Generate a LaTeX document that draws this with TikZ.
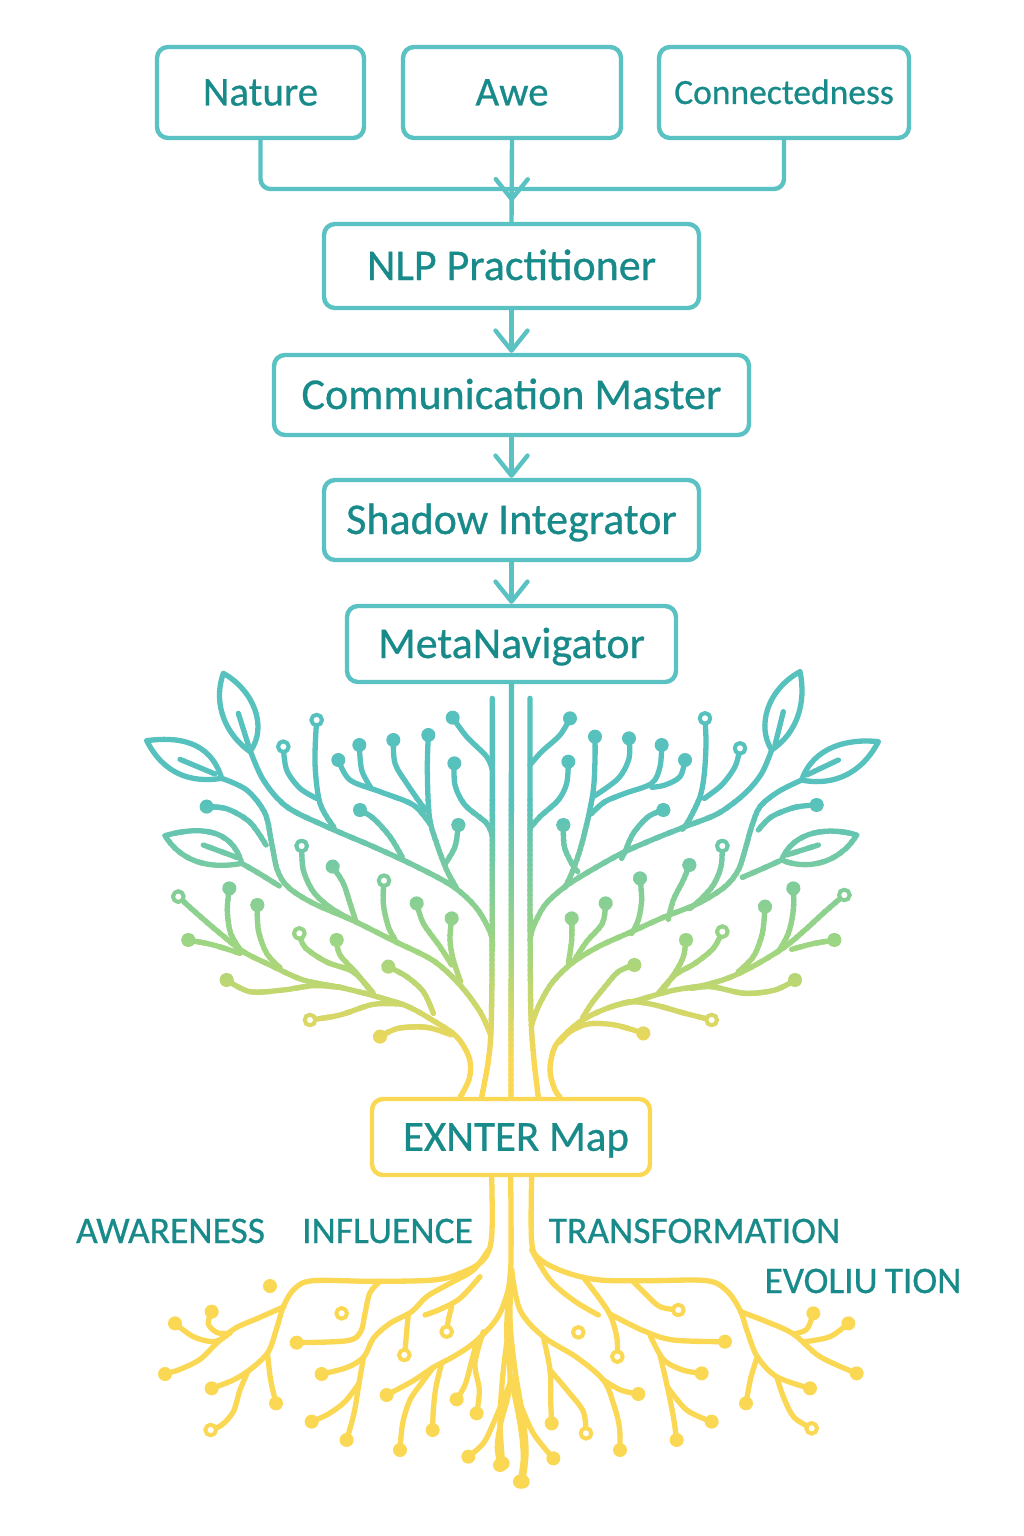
\documentclass[tikz,border=0pt]{standalone}
\usepackage{fontspec}
\setmainfont{Carlito}[FakeBold=0.6]
\usetikzlibrary{arrows.meta,decorations.markings}
\definecolor{boxteal}{RGB}{90,194,194}
\definecolor{txteal}{RGB}{24,138,138}
\definecolor{rootyel}{RGB}{250,216,84}
\definecolor{tgT}{RGB}{86,193,189}
\definecolor{tgG}{RGB}{160,214,128}
\definecolor{tgY}{RGB}{250,216,84}

\newcommand\tbranch[1]{\draw plot[smooth,tension=0.55] coordinates {#1};}
\newcommand\tdot[1]{\fill #1 circle[radius=21];}
\newcommand\tring[1]{\draw[line width=4pt,fill=white] #1 circle[radius=16];}

\newcommand\lefttree{%
\tbranch{(1057,85) (1057,600) (1055,1000) (1048,1150) (1025,1282)}
\tbranch{(330,240) (370,330) (440,410) (560,470) (700,530) (830,590) (940,650) (1010,715) (1052,790) (1057,830)}
\draw (250,10) .. controls (340,60) and (385,170) .. (330,245) .. controls (265,200) and (215,110) .. (250,10);
\draw (295,130) -- (325,225);
\draw (20,212) .. controls (110,200) and (210,210) .. (245,325) .. controls (150,340) and (70,310) .. (20,212);
\draw (120,268) -- (225,312);
\draw (75,497) .. controls (170,470) and (275,470) .. (305,580) .. controls (200,600) and (120,570) .. (75,497);
\draw (190,525) -- (290,562);
\tbranch{(245,325) (320,360) (375,430) (395,520) (412,600) (445,652) (520,700) (640,752) (760,812) (880,872) (960,945) (1020,1025) (1050,1090)}
\tbranch{(305,580) (360,612) (418,648)}
\tbranch{(200,410) (262,417) (330,457) (378,525)}
\tbranch{(115,680) (170,730) (240,790) (310,845) (390,885) (490,930) (600,952) (700,977) (800,1008) (880,1052) (950,1100) (988,1165) (988,1225) (960,1282)}
\tbranch{(720,1100) (775,1075) (860,1072) (935,1095)}
\tbranch{(510,1050) (600,1035) (700,1003) (790,1003)}
\tbranch{(260,930) (330,965) (430,960) (520,947) (600,952)}
\tbranch{(145,810) (220,825) (300,850)}
\tbranch{(268,655) (262,720) (272,790) (305,845)}
\tbranch{(352,705) (355,780) (380,850) (420,893)}
\tbranch{(478,790) (495,832) (560,876) (640,906) (700,970)}
\tbranch{(590,810) (600,855) (650,910) (695,968)}
\tbranch{(745,890) (800,920) (850,965) (880,1030)}
\tbranch{(485,528) (490,600) (520,665) (570,712) (630,747)}
\tbranch{(578,590) (610,640) (630,700) (648,755)}
\tbranch{(732,632) (730,700) (745,770) (765,808)}
\tbranch{(830,700) (850,760) (900,830) (935,885)}
\tbranch{(935,745) (930,810) (940,870) (962,935)}
\tbranch{(530,150) (525,280) (540,400) (582,472)}
\tbranch{(430,230) (440,300) (480,355) (530,385)}
\tbranch{(595,270) (630,330) (720,365) (820,405) (870,462)}
\tbranch{(658,225) (665,300) (692,352)}
\tbranch{(760,210) (765,280) (800,340) (857,422)}
\tbranch{(865,195) (862,300) (868,440) (890,520) (920,600) (950,655)}
\tbranch{(955,465) (945,530) (915,582)}
\tbranch{(660,420) (700,445) (750,500) (787,562)}
\tbranch{(938,143) (980,200) (1040,260) (1057,300)}
\tbranch{(943,280) (945,345) (975,405) (1040,460) (1057,500)}
\tdot{(200,410)}\tdot{(145,810)}\tdot{(268,655)}\tdot{(352,705)}\tdot{(590,810)}\tdot{(745,890)}\tdot{(720,1100)}\tdot{(260,930)}
\tdot{(578,590)}\tdot{(830,700)}\tdot{(935,745)}
\tdot{(595,270)}\tdot{(658,225)}\tdot{(760,210)}\tdot{(865,195)}\tdot{(955,465)}\tdot{(660,420)}\tdot{(938,143)}\tdot{(943,280)}
\tring{(530,150)}\tring{(430,230)}\tring{(485,528)}\tring{(732,632)}\tring{(115,680)}\tring{(478,790)}\tring{(510,1050)}
}

\newcommand\righttree{%
\tbranch{(75,85) (75,600) (77,1000) (85,1150) (100,1282)}
\tbranch{(800,240) (770,310) (720,370) (640,430) (540,470) (440,510) (350,550) (260,600) (180,650) (120,705) (85,770) (75,810)}
\draw (885,5) .. controls (905,100) and (875,190) .. (800,240) .. controls (755,170) and (785,60) .. (885,5);
\draw (835,125) -- (810,225);
\draw (1120,215) .. controls (1060,330) and (960,345) .. (890,330) .. controls (925,230) and (1030,205) .. (1120,215);
\draw (1000,270) -- (905,315);
\draw (1055,495) .. controls (1000,585) and (900,600) .. (830,570) .. controls (865,480) and (975,470) .. (1055,495);
\draw (940,525) -- (845,555);
\tbranch{(890,330) (820,365) (765,410) (740,470) (720,540) (700,600) (660,650) (580,700) (480,740) (380,785) (280,830) (200,880) (140,940) (100,1010) (80,1065)}
\tbranch{(830,570) (770,597) (712,622)}
\tbranch{(935,405) (870,412) (800,440) (760,480)}
\tbranch{(1018,675) (960,725) (900,780) (840,830) (760,880) (680,920) (600,945) (500,962) (400,990) (320,1010) (250,1040) (200,1075) (150,1130) (135,1200) (148,1255) (165,1282)}
\tbranch{(415,1090) (330,1065) (250,1062) (195,1085) (165,1115)}
\tbranch{(620,1050) (540,1030) (450,1005) (380,995) (320,1010)}
\tbranch{(865,655) (865,720) (850,790) (820,845)}
\tbranch{(988,810) (920,822) (860,838)}
\tbranch{(870,930) (810,960) (720,970) (620,950) (560,955)}
\tbranch{(780,710) (772,790) (745,860) (700,905)}
\tbranch{(652,785) (625,835) (570,880) (510,915) (460,970)}
\tbranch{(543,810) (535,860) (512,905) (470,965)}
\tbranch{(388,885) (340,905) (300,950) (260,1000) (232,1045)}
\tbranch{(652,528) (648,590) (625,645) (585,690) (555,715)}
\tbranch{(553,585) (535,630) (505,690) (490,748)}
\tbranch{(405,625) (410,690) (400,750) (380,790)}
\tbranch{(302,700) (292,760) (245,815) (205,875)}
\tbranch{(200,745) (200,810) (190,880)}
\tbranch{(600,145) (603,220) (598,310) (585,380) (552,450) (532,478)}
\tbranch{(705,235) (690,290) (650,345) (598,385)}
\tbranch{(270,200) (270,270) (265,360) (248,450) (225,540) (200,610) (180,652)}
\tbranch{(372,205) (372,265) (340,325) (268,378)}
\tbranch{(470,225) (465,290) (440,340) (360,370) (300,395) (258,432)}
\tbranch{(540,270) (525,320) (480,345) (440,352)}
\tbranch{(175,465) (178,530) (200,580) (218,605)}
\tbranch{(475,420) (430,440) (385,490) (360,545) (350,565)}
\tbranch{(195,145) (165,195) (110,245) (75,285)}
\tbranch{(190,275) (185,340) (160,390) (105,440) (75,475)}
\tdot{(935,405)}\tdot{(865,655)}\tdot{(988,810)}\tdot{(870,930)}\tdot{(780,710)}\tdot{(543,810)}\tdot{(388,885)}\tdot{(415,1090)}
\tdot{(553,585)}\tdot{(405,625)}\tdot{(302,700)}\tdot{(200,745)}\tdot{(270,200)}\tdot{(372,205)}\tdot{(470,225)}\tdot{(540,270)}
\tdot{(175,465)}\tdot{(475,420)}\tdot{(195,145)}\tdot{(190,275)}
\tring{(600,145)}\tring{(705,235)}\tring{(652,528)}\tring{(1018,675)}\tring{(652,785)}\tring{(620,1050)}
}

\newcommand\treeart{%
\draw (meta.south) -- (exnter.north);
\begin{scope}[shift={(140,670)},scale=0.33333]\lefttree\end{scope}
\begin{scope}[shift={(505,670)},scale=0.33333]\righttree\end{scope}
}

\tikzset{
 fbox/.style={draw=boxteal, line width=4.4pt, rounded corners=11pt, text=txteal, align=center, inner sep=0pt, text depth=0pt},
 connline/.style={draw=boxteal, line width=4.4pt, line cap=round, line join=round},
 arr/.style={-{Straight Barb[length=20pt,width=32pt,line cap=round,line join=round]}},
 treestyle/.style={line width=5.3pt, line cap=round, line join=round},
 lab/.style={text=txteal, inner sep=0pt, font=\fontsize{37.5}{44}\selectfont}
}

\begin{document}
\begin{tikzpicture}[x=1pt,y=-1pt]
\useasboundingbox (0,0) rectangle (1024,1536);
\fill[white] (0,0) rectangle (1024,1536);

% boxes
\node[fbox, minimum width=207pt, minimum height=91pt, font=\fontsize{41}{48}\selectfont, text height=26pt] (nature) at (260.5,92.5) {Nature};
\node[fbox, minimum width=218pt, minimum height=91pt, font=\fontsize{41}{48}\selectfont, text height=26pt] (awe) at (512,92.5) {Awe};
\node[fbox, minimum width=250pt, minimum height=91pt, font=\fontsize{35.5}{42}\selectfont, text height=23pt] (connect) at (784,92.5) {Connectedness};
\node[fbox, minimum width=375pt, minimum height=84pt, font=\fontsize{44}{52}\selectfont, text height=28pt] (nlp) at (511.5,266) {NLP Practitioner};
\node[fbox, minimum width=475pt, minimum height=80pt, font=\fontsize{44}{52}\selectfont, text height=28pt] (comm) at (511.5,395) {Communication Master};
\node[fbox, minimum width=375pt, minimum height=80pt, font=\fontsize{44}{52}\selectfont, text height=28pt] (shadow) at (511.5,520) {Shadow Integrator};
\node[fbox, minimum width=329pt, minimum height=76pt, font=\fontsize{44}{52}\selectfont, text height=28pt] (meta) at (511.5,644) {MetaNavigator};
\node[fbox, draw=rootyel, minimum width=278pt, minimum height=76pt, font=\fontsize{43}{50}\selectfont, text height=27.5pt] (exnter) at (511,1137) {\hspace*{10pt}EXNTER Map};

% connectors
\coordinate (jn) at (512,189);
\draw[connline, rounded corners=10pt] (nature.south) |- (jn);
\draw[connline, rounded corners=10pt] (connect.south) |- (jn);
\draw[connline, postaction={decorate}, decoration={markings, mark=at position 0.75 with {\arrow{Straight Barb[length=20pt,width=32pt,line cap=round,line join=round]}}}] (awe.south) -- (nlp.north);
\draw[connline, arr] (nlp.south) -- (comm.north);
\draw[connline, arr] (comm.south) -- (shadow.north);
\draw[connline, arr] (shadow.south) -- (meta.north);

% tree with vertical colour gradient (drawn in horizontal bands)
\begin{scope}
 \clip (0,0) rectangle (1024,800.5);
 \begin{scope}[color=tgT, treestyle]\treeart\end{scope}
\end{scope}
\foreach \yb in {800,805,...,1100}{
 \pgfmathtruncatemacro\yy{\yb+2}
 \ifnum\yy<950
  \pgfmathtruncatemacro\pp{(\yy-800)/1.5}\colorlet{bandc}{tgG!\pp!tgT}
 \else
  \pgfmathtruncatemacro\pp{min(100,(\yy-950)/1.1)}\colorlet{bandc}{tgY!\pp!tgG}
 \fi
 \begin{scope}
  \clip (0,\yb-0.5) rectangle (1024,\yb+5.5);
  \begin{scope}[color=bandc, treestyle]\treeart\end{scope}
 \end{scope}
}

% roots
\begin{scope}[color=rootyel, treestyle, shift={(140,1170)}, scale=0.33333]
\tbranch{(1055,20) (1055,200) (1030,270) (960,310) (880,330) (700,334) (520,332) (465,355) (432,405) (410,475) (385,545) (335,595) (280,630) (215,655)}
\tbranch{(432,410) (360,442) (285,475) (232,518) (180,568) (120,598) (75,612)}
\tbranch{(105,460) (160,500) (222,515) (262,495)}
\tbranch{(215,425) (205,462) (232,488) (270,490)}
\tbranch{(383,555) (392,630) (408,700)}
\tbranch{(325,602) (300,660) (280,725) (245,765) (212,780)}
\tbranch{(720,334) (690,368) (675,430) (662,485) (622,512) (470,518)}
\tbranch{(1045,240) (1000,300) (930,340) (860,380) (815,425) (750,460) (700,505) (672,560) (622,592) (545,612)}
\tbranch{(805,432) (800,485) (795,545)}
\tbranch{(670,565) (657,640) (642,730) (620,810)}
\tbranch{(1020,320) (960,385) (900,418) (855,435)}
\tbranch{(935,410) (925,450) (920,485)}
\tbranch{(657,640) (615,695) (565,732) (515,755)}
\tbranch{(1112,20) (1112,300) (1092,400) (1060,460) (1000,520) (940,560) (880,592) (820,632) (740,675)}
\tbranch{(880,592) (850,632) (810,690) (788,760) (780,840)}
\tbranch{(905,580) (888,650) (880,720) (878,780)}
\tbranch{(1010,515) (992,585) (975,645) (950,688)}
\tbranch{(1030,485) (1005,580) (1018,660) (1010,730)}
\tbranch{(1112,300) (1100,480) (1110,640) (1082,760) (1072,830) (1080,885)}
\tbranch{(1110,640) (1060,760) (1030,820) (985,860)}
\tbranch{(1112,620) (1140,760) (1150,860) (1140,935)}
\tdot{(215,655)}\tdot{(75,612)}\tdot{(105,460)}\tdot{(215,425)}\tdot{(408,700)}\tdot{(470,518)}\tdot{(545,612)}\tdot{(620,810)}
\tdot{(515,755)}\tdot{(740,675)}\tdot{(780,840)}\tdot{(878,780)}\tdot{(950,688)}\tdot{(1010,730)}\tdot{(1080,885)}\tdot{(985,860)}
\tdot{(1140,935)}\tdot{(390,348)}
\tring{(212,780)}\tring{(793,555)}\tring{(920,485)}\tring{(605,430)}
\end{scope}
\begin{scope}[color=rootyel, treestyle, shift={(500,1170)}, scale=0.33333]
\tbranch{(95,20) (95,215) (120,268) (200,308) (300,330) (450,332) (620,332) (680,362) (720,420) (742,485) (772,560) (830,620) (930,655)}
\tbranch{(722,425) (800,455) (880,492) (960,560) (1070,610)}
\tbranch{(880,492) (920,478) (940,430)}
\tbranch{(915,515) (990,500) (1045,460)}
\tbranch{(772,560) (752,625) (738,700)}
\tbranch{(830,620) (852,685) (882,742) (935,775)}
\tbranch{(400,335) (440,375) (480,410) (535,420)}
\tbranch{(95,240) (150,330) (222,392) (295,435)}
\tbranch{(35,300) (60,420) (130,500) (230,562) (310,630) (340,700) (358,770) (360,840)}
\tbranch{(310,630) (362,660) (415,672)}
\tbranch{(130,500) (150,600) (152,690) (155,760)}
\tbranch{(150,600) (205,665) (250,725) (258,790)}
\tbranch{(250,322) (325,425) (350,500) (352,560)}
\tbranch{(330,432) (430,482) (520,510) (675,515)}
\tbranch{(450,495) (490,568) (548,600) (605,610)}
\tbranch{(480,555) (502,650) (520,740) (530,810)}
\tbranch{(502,650) (560,720) (635,755)}
\tbranch{(35,300) (30,450) (45,600) (70,750) (78,850) (68,935)}
\tbranch{(30,450) (10,600) (0,750) (8,880)}
\tbranch{(60,700) (100,790) (160,865)}
\tdot{(930,655)}\tdot{(1070,610)}\tdot{(940,430)}\tdot{(1045,460)}\tdot{(738,700)}\tdot{(415,672)}\tdot{(155,760)}\tdot{(360,840)}
\tdot{(675,515)}\tdot{(605,610)}\tdot{(530,810)}\tdot{(635,755)}\tdot{(68,935)}\tdot{(8,880)}\tdot{(160,865)}
\tring{(935,775)}\tring{(535,420)}\tring{(352,560)}\tring{(258,790)}\tring{(235,487)}
\end{scope}

% labels
\node[lab, anchor=base] (lawareness) at (170.5,1243) {AWARENESS};
\node[lab, anchor=base] (linfluence) at (387.5,1243) {INFLUENCE};
\node[lab, anchor=base] (ltransform) at (694.5,1243) {TRANSFORMATION};
\node[lab, anchor=base] (levolution) at (863,1293) {EVOLIU\kern7pt TION};
\end{tikzpicture}
\end{document}
